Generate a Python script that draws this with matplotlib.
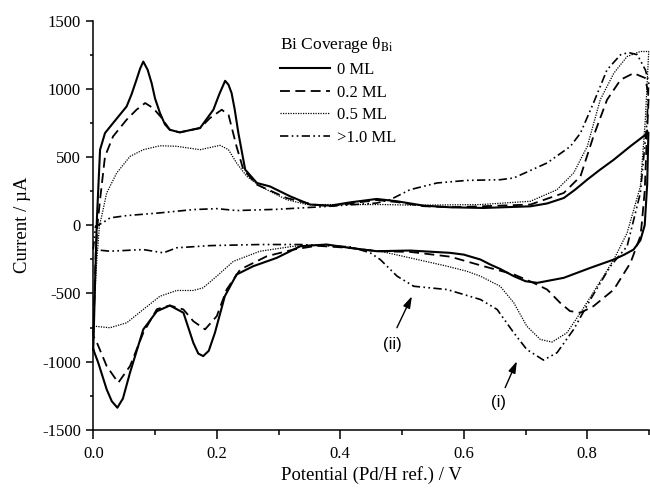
import numpy as np
import matplotlib
matplotlib.use('Agg')
import matplotlib.pyplot as plt
from matplotlib.ticker import MultipleLocator

plt.rcParams['font.family'] = ['Liberation Serif', 'DejaVu Serif']
plt.rcParams['mathtext.fontset'] = 'stix'
plt.rcParams['axes.unicode_minus'] = False

# 0 ML (solid)
up0_x = [0.0, 0.003, 0.006, 0.011, 0.019, 0.032, 0.054, 0.062, 0.070, 0.076, 0.081, 0.088, 0.0945, 0.100, 0.108, 0.116,
         0.124, 0.140, 0.173, 0.1945, 0.204, 0.2135, 0.219, 0.224, 0.229, 0.235, 0.246, 0.265, 0.286, 0.319, 0.351,
         0.384, 0.416, 0.459, 0.492, 0.535, 0.578, 0.632, 0.708, 0.735, 0.762, 0.780, 0.800, 0.820, 0.843, 0.870,
         0.899]
up0_y = [-910, -400, 60, 554, 676, 749, 871, 960, 1067, 1150, 1200, 1140, 1042, 930, 823, 740,
         700, 681, 713, 847, 960, 1059, 1030, 969, 850, 676, 408, 310, 285, 212, 152,
         144, 168, 193, 176, 144, 132, 127, 139, 160, 200, 260, 335, 405, 481, 580,
         680]
dn0_x = [0.899, 0.897, 0.893, 0.886, 0.875, 0.860, 0.843, 0.805, 0.762, 0.719, 0.700, 0.681, 0.659, 0.643, 0.627,
         0.600, 0.578, 0.513, 0.459, 0.416, 0.378, 0.350, 0.335, 0.297, 0.259, 0.232, 0.213, 0.197, 0.187, 0.178,
         0.170, 0.162, 0.146, 0.124, 0.103, 0.081, 0.0595, 0.048, 0.039, 0.030, 0.0217, 0.008, 0.0]
dn0_y = [680, 300, 0, -110, -178, -215, -251, -312, -385, -422, -410, -373, -320, -288, -251,
         -215, -202, -185, -190, -166, -141, -149, -154, -239, -300, -361, -520, -788, -920, -959,
         -940, -861, -641, -588, -630, -763, -1080, -1270, -1337, -1290, -1203, -1007, -910]

# 0.2 ML (dashed)
up2_x = [0.0, 0.004, 0.0066, 0.011, 0.019, 0.032, 0.054, 0.070, 0.084, 0.097, 0.111, 0.124, 0.140, 0.173, 0.189,
         0.208, 0.219, 0.232, 0.243, 0.265, 0.313, 0.356, 0.384, 0.416, 0.459, 0.492, 0.535, 0.578, 0.627, 0.708,
         0.762, 0.789, 0.810, 0.832, 0.854, 0.875, 0.894, 0.8995]
up2_y = [-812, -200, -7, 188, 505, 651, 774, 847, 896, 859, 786, 700, 681, 713, 786,
         847, 810, 578, 408, 298, 200, 152, 140, 160, 185, 170, 140, 132, 139, 152,
         237, 359, 652, 920, 1067, 1115, 1079, 944]
dn2_x = [0.8995, 0.896, 0.893, 0.888, 0.886, 0.870, 0.843, 0.810, 0.789, 0.772, 0.756, 0.735, 0.713, 0.681, 0.632,
         0.578, 0.513, 0.459, 0.416, 0.362, 0.324, 0.281, 0.238, 0.216, 0.200, 0.181, 0.162, 0.146, 0.124, 0.103,
         0.081, 0.0595, 0.0405, 0.0217, 0.006, 0.0]
dn2_y = [944, 600, 250, 0, -80, -275, -471, -593, -641, -629, -568, -471, -422, -360, -300,
         -230, -195, -190, -166, -150, -178, -227, -324, -471, -666, -763, -703, -617, -588, -615,
         -788, -1032, -1154, -1032, -861, -812]

# 0.5 ML (dotted)
up5_x = [0.0, 0.005, 0.010, 0.0136, 0.0217, 0.038, 0.0595, 0.081, 0.108, 0.135, 0.173, 0.2054, 0.219, 0.232, 0.2486,
         0.270, 0.313, 0.346, 0.416, 0.470, 0.524, 0.627, 0.708, 0.751, 0.778, 0.800, 0.821, 0.843, 0.8645, 0.886,
         0.8995]
up5_y = [-739, -300, 0, 66, 237, 384, 505, 554, 583, 579, 554, 586, 554, 457, 359,
         286, 188, 152, 152, 152, 147, 152, 176, 261, 384, 578, 920, 1115, 1237, 1274,
         1274]
dn5_x = [0.8995, 0.894, 0.886, 0.8645, 0.843, 0.816, 0.789, 0.767, 0.743, 0.724, 0.702, 0.681, 0.659, 0.627, 0.605,
         0.573, 0.524, 0.4647, 0.4376, 0.378, 0.324, 0.270, 0.227, 0.200, 0.178, 0.162, 0.135, 0.108, 0.081, 0.054,
         0.027, 0.0]
dn5_y = [1274, 774, 285, -56, -251, -447, -641, -788, -856, -837, -739, -568, -447, -373, -337,
         -300, -250, -190, -178, -141, -154, -190, -264, -373, -458, -478, -478, -520, -617, -715,
         -751, -739]

# >1.0 ML (dash-dot-dot)
up10_x = [0.0, 0.0036, 0.0153, 0.027, 0.054, 0.108, 0.162, 0.200, 0.232, 0.297, 0.367, 0.459, 0.481, 0.513, 0.5565,
          0.605, 0.659, 0.681, 0.735, 0.7726, 0.789, 0.810, 0.832, 0.854, 0.867, 0.881, 0.894, 0.8995]
up10_y = [-178, -7, 18, 54, 71, 91, 115, 122, 108, 117, 135, 163, 188, 261, 310,
          329, 334, 347, 457, 578, 676, 896, 1140, 1250, 1266, 1250, 1140, 1050]
dn10_x = [0.8995, 0.897, 0.886, 0.8645, 0.8375, 0.805, 0.778, 0.751, 0.729, 0.702, 0.681, 0.654, 0.627, 0.573, 0.519,
          0.492, 0.4647, 0.4485, 0.416, 0.335, 0.270, 0.189, 0.135, 0.1135, 0.081, 0.027, 0.0]
dn10_y = [1050, 774, 237, -154, -300, -544, -763, -934, -988, -910, -788, -617, -544, -471, -447,
          -373, -251, -202, -158, -141, -141, -149, -165, -202, -178, -190, -178]

labels = ['0 ML', '0.2 ML', '0.5 ML', '>1.0 ML']

# annotation arrows: label position, arrow tail, arrow head
note_text = ['(ii)', '(i)']
note_xy = [(0.4836, -873), (0.656, -1300)]
arrow_tail = [(0.4917, -751), (0.667, -1190)]
arrow_head = [(0.516, -520), (0.686, -996)]

fig = plt.figure(figsize=(6.5, 4.88), dpi=100)
ax = fig.add_axes([0.1435, 0.119, 0.855, 0.8387])

curves = [(up0_x, up0_y, dn0_x, dn0_y), (up2_x, up2_y, dn2_x, dn2_y),
          (up5_x, up5_y, dn5_x, dn5_y), (up10_x, up10_y, dn10_x, dn10_y)]
styles = [dict(ls='-', lw=1.5),
          dict(ls=(0, (5.5, 3)), lw=1.3),
          dict(ls=(0, (1, 1)), lw=0.9),
          dict(ls=(0, (5, 2, 1, 2, 1, 2)), lw=1.2)]

for (ux, uy, dx, dy), st, lab in zip(curves, styles, labels):
    x = np.concatenate([ux, dx])
    y = np.concatenate([uy, dy])
    ax.plot(x, y, color='black', label=lab, clip_on=False, **st)

ax.set_xlim(0, 0.9)
ax.set_ylim(-1500, 1500)
ax.xaxis.set_minor_locator(MultipleLocator(0.1))
ax.yaxis.set_major_locator(MultipleLocator(500))
ax.yaxis.set_minor_locator(MultipleLocator(250))
ax.set_xticks([0.0, 0.2, 0.4, 0.6, 0.8])
ax.set_xticklabels(['0.0', '0.2', '0.4', '0.6', '0.8'])

for s in ['top', 'right']:
    ax.spines[s].set_visible(False)
for s in ['left', 'bottom']:
    ax.spines[s].set_linewidth(1.1)

ax.tick_params(axis='y', which='major', direction='out', length=4.8, width=1.1, labelsize=12, pad=4)
ax.tick_params(axis='y', which='minor', direction='out', length=2.4, width=1.1)
ax.tick_params(axis='x', which='major', direction='out', length=6.5, width=1.1, labelsize=12, pad=5)
ax.tick_params(axis='x', which='minor', direction='out', length=3.6, width=1.1)

ax.set_xlabel('Potential (Pd/H ref.) / V', fontsize=13.5, labelpad=3)
ax.set_ylabel('Current / µA', fontsize=13.5, labelpad=8)

leg = ax.legend(title='Bi Coverage θ$_{\\mathrm{Bi}}$', frameon=False, fontsize=12, title_fontsize=12.5,
                loc='upper left', bbox_to_anchor=(0.315, 0.993), handlelength=3.0, handletextpad=0.4,
                labelspacing=0.4, alignment='left', borderaxespad=0.3)

for t, xy, tail, head in zip(note_text, note_xy, arrow_tail, arrow_head):
    ax.text(xy[0], xy[1], t, ha='center', va='center', fontsize=12, family='Liberation Sans')
    ax.annotate('', xy=head, xytext=tail,
                arrowprops=dict(arrowstyle='-|>,head_length=0.7,head_width=0.22', color='black', lw=1,
                                shrinkA=0, shrinkB=0))

fig.savefig('out.png', dpi=100)
